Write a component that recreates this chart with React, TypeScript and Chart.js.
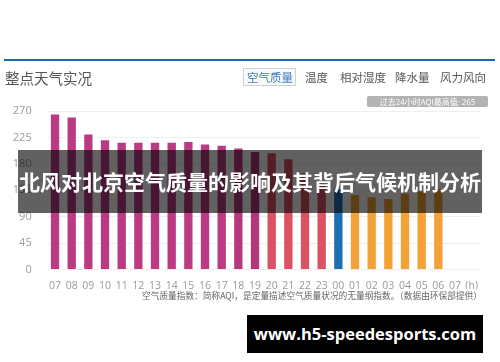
import React, { useEffect, useRef } from "react";
import { Chart, registerables } from "chart.js";

Chart.register(...registerables);

const hours = ["07","08","09","10","11","12","13","14","15","16","17","18","19","20","21","22","23","00","01","02","03","04","05","06","07","(h)"];
const aqiValues: (number | null)[] = [264,259,230,220,216,216,216,216,217,213,211,206,200,198,188,164,146,137,127,123,120,129,133,137,null,null];
const barColors = [
  "#bc3a84","#bc3a84","#bc3a84","#bc3a84","#bc3a84","#bc3a84","#bc3a84","#bc3a84","#bc3a84","#bc3a84","#bc3a84","#b8387f","#b4367c",
  "#db5262","#db5262","#db5262","#db5262",
  "#1f70b0",
  "#f2a236","#f2a236","#f2a236","#f2a236","#f2a236","#f2a236","#f2a236","#f2a236"
];
const yTicks = [0, 45, 90, 135, 180, 225, 270];
const tabs = ["空气质量", "温度", "相对湿度", "降水量", "风力风向"];
const tabLefts = [243, 305, 340, 395, 440];

const CJK = '"Noto Sans CJK SC", "Noto Sans", sans-serif';

export default function App() {
  const canvasRef = useRef<HTMLCanvasElement | null>(null);

  useEffect(() => {
    document.body.style.margin = "0";
    const ctx = canvasRef.current;
    if (!ctx) return;
    const chart = new Chart(ctx, {
      type: "bar",
      data: {
        labels: hours,
        datasets: [
          {
            data: aqiValues,
            backgroundColor: barColors,
            borderWidth: 0,
            barPercentage: 0.5,
            categoryPercentage: 1,
          },
        ],
      },
      options: {
        responsive: false,
        animation: false,
        devicePixelRatio: 1,
        layout: { padding: { top: 111, right: 20, bottom: 72.5, left: 0 } },
        plugins: { legend: { display: false }, tooltip: { enabled: false } },
        scales: {
          x: {
            grid: { display: false },
            border: { display: false },
            ticks: {
              color: "#9a9a9a",
              font: { size: 10.5, family: '"Open Sans", "Noto Sans", sans-serif' },
              padding: 2,
              maxRotation: 0,
              autoSkip: false,
            },
            afterFit: (s: any) => { s.height = 20; },
          },
          y: {
            min: 0,
            max: 270,
            afterBuildTicks: (s: any) => { s.ticks = yTicks.map((v) => ({ value: v })); },
            grid: { color: "#efefef", drawTicks: false },
            border: { display: false },
            ticks: {
              color: "#9a9a9a",
              font: { size: 11, family: '"Open Sans", "Noto Sans", sans-serif' },
              padding: 15,
            },
            afterFit: (s: any) => { s.width = 46.7; },
          },
        },
      },
    });
    return () => chart.destroy();
  }, []);

  return (
    <div style={{ position: "absolute", left: 0, top: 0, width: 500, height: 362, overflow: "hidden", background: "#fff" }}>
      <canvas ref={canvasRef} width={500} height={362} style={{ position: "absolute", left: 0, top: 0, width: 500, height: 362 }} />
      {/* top blue line */}
      <div style={{ position: "absolute", left: 4, top: 59, width: 491, height: 2, background: "#1d68ad" }} />
      {/* header title */}
      <div style={{ position: "absolute", left: 5, top: 68, fontFamily: CJK, fontSize: 14.5, color: "#555", lineHeight: "20px", whiteSpace: "nowrap" }}>整点天气实况</div>
      {/* tabs */}
      <div style={{ position: "absolute", left: 243, top: 68, width: 51, height: 16, border: "1px solid #cfcfcf", background: "#fafafa" }} />
      {tabs.map((t, i) => (
        <div key={t} style={{ position: "absolute", left: tabLefts[i] + (i === 0 ? 4 : 0), top: 68, fontFamily: CJK, fontSize: 11.5, lineHeight: "18px", color: i === 0 ? "#3a7cc2" : "#555", whiteSpace: "nowrap" }}>{t}</div>
      ))}
      {/* badge */}
      <div style={{ position: "absolute", left: 367, top: 96, width: 121, height: 11, background: "#b3b3b3", borderRadius: 2, color: "#fff", fontFamily: CJK, fontSize: 8, lineHeight: "11px", textAlign: "center", whiteSpace: "nowrap" }}>过去24小时AQI最高值: 265</div>
      {/* overlay band */}
      <div style={{ position: "absolute", left: 18, top: 150, width: 464, height: 63, background: "rgba(0,0,0,0.62)", color: "#fff", fontFamily: CJK, fontWeight: 700, fontSize: 21, lineHeight: "63px", textAlign: "center", whiteSpace: "nowrap" }}>北风对北京空气质量的影响及其背后气候机制分析</div>
      {/* caption */}
      <div style={{ position: "absolute", left: 142, top: 289, fontFamily: CJK, fontSize: 8.7, lineHeight: "14px", color: "#666", whiteSpace: "nowrap" }}>空气质量指数：简称AQI，是定量描述空气质量状况的无量纲指数。（数据由环保部提供）</div>
      {/* url box */}
      <div style={{ position: "absolute", left: 247, top: 315, width: 236, height: 38, background: "#000", color: "#fff", fontFamily: '"Open Sans", "DejaVu Sans", sans-serif', fontWeight: 700, fontSize: 16.5, lineHeight: "38px", textAlign: "center", whiteSpace: "nowrap" }}>www.h5-speedesports.com</div>
    </div>
  );
}
